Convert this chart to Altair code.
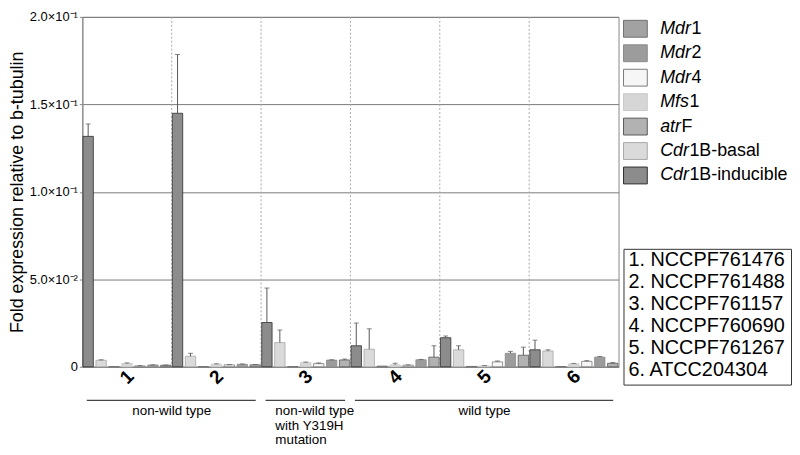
import altair as alt
import pandas as pd

# ---------------- data ----------------
strains = ["1", "2", "3", "4", "5", "6"]
bar_genes = ["Cdr1B-inducible", "Cdr1B-basal", "Mdr1", "Mfs1", "Mdr4", "Mdr2", "atrF"]

cdr1b_inducible = [0.1317, 0.1449, 0.0253, 0.0120, 0.0166, 0.0097]
cdr1b_inducible_err = [0.0071, 0.0336, 0.0197, 0.0130, 0.0010, 0.0055]
cdr1b_basal = [0.0037, 0.0060, 0.0138, 0.0100, 0.0097, 0.0090]
cdr1b_basal_err = [0.0003, 0.0017, 0.0072, 0.0117, 0.0023, 0.0007]
mdr1 = [0.0001, 0.0001, 0.0001, 0.0004, 0.0002, 0.0001]
mdr1_err = [0.0, 0.0, 0.0, 0.0, 0.0, 0.0]
mfs1 = [0.0019, 0.0015, 0.0024, 0.0011, 0.0005, 0.0017]
mfs1_err = [0.0003, 0.0002, 0.0003, 0.0009, 0.0002, 0.0002]
mdr4 = [0.0005, 0.0011, 0.0018, 0.0009, 0.0028, 0.0031]
mdr4_err = [0.0001, 0.0001, 0.0004, 0.0002, 0.0005, 0.0004]
mdr2 = [0.0010, 0.0014, 0.0038, 0.0040, 0.0077, 0.0055]
mdr2_err = [0.0001, 0.0002, 0.0002, 0.0002, 0.0011, 0.0004]
atrf = [0.0009, 0.0011, 0.0039, 0.0055, 0.0066, 0.0020]
atrf_err = [0.0001, 0.0002, 0.0005, 0.0065, 0.0046, 0.0004]

legend_genes = ["Mdr1", "Mdr2", "Mdr4", "Mfs1", "atrF", "Cdr1B-basal", "Cdr1B-inducible"]
legend_italic = ["Mdr", "Mdr", "Mdr", "Mfs", "atr", "Cdr", "Cdr"]
legend_plain = ["1", "2", "4", "1", "F", "1B-basal", "1B-inducible"]

strain_names = ["1. NCCPF761476", "2. NCCPF761488", "3. NCCPF761157",
                "4. NCCPF760690", "5. NCCPF761267", "6. ATCC204304"]

group_labels = ["non-wild type", "non-wild type\nwith Y319H\nmutation", "wild type"]
group_first = [1, 3, 4]
group_last = [2, 3, 6]

y_tick_values = [0, 0.05, 0.1, 0.15, 0.2]
y_tick_labels = ["0", "5.0×10⁻²", "1.0×10⁻¹", "1.5×10⁻¹", "2.0×10⁻¹"]
y_title = "Fold expression relative to b-tubulin"

# ---------------- styles ----------------
FONT = "Liberation Sans"
fill_map = {
    "Mdr1": "#a2a2a2", "Mdr2": "#9c9c9c", "Mdr4": "#f6f6f6", "Mfs1": "#d6d6d6",
    "atrF": "#b2b2b2", "Cdr1B-basal": "#dadada", "Cdr1B-inducible": "#8c8c8c",
}
stroke_map = {
    "Mdr1": "#6e6e6e", "Mdr2": "#8a8a8a", "Mdr4": "#7a7a7a", "Mfs1": "#c8c8c8",
    "atrF": "#5a5a5a", "Cdr1B-basal": "#a8a8a8", "Cdr1B-inducible": "#2e2e2e",
}
W, H = 541, 353
LEG_FS = 18

series = {
    "Cdr1B-inducible": (cdr1b_inducible, cdr1b_inducible_err),
    "Cdr1B-basal": (cdr1b_basal, cdr1b_basal_err),
    "Mdr1": (mdr1, mdr1_err),
    "Mfs1": (mfs1, mfs1_err),
    "Mdr4": (mdr4, mdr4_err),
    "Mdr2": (mdr2, mdr2_err),
    "atrF": (atrf, atrf_err),
}
rows = []
for g in bar_genes:
    vals, errs = series[g]
    for s, v, e in zip(strains, vals, errs):
        rows.append({"strain": s, "gene": g, "value": v, "err": e})
df = pd.DataFrame(rows)

x_scale = alt.Scale(domain=strains, paddingInner=0, paddingOuter=0)
off_scale = alt.Scale(domain=bar_genes, paddingInner=0.2, paddingOuter=0.05)
y_scale = alt.Scale(domain=[0, 0.2], nice=False)

label_expr = "[" + ",".join("'%s'" % t for t in y_tick_labels) + "][indexof([" + \
    ",".join(str(v) for v in y_tick_values) + "], datum.value)]"

x_axis = alt.Axis(title=None, ticks=False, labelAngle=315, labelFontSize=19,
                  labelFontWeight="bold", labelColor="black", labelFont=FONT,
                  labelPadding=10, labelAlign="center", labelBaseline="middle",
                  domainColor="#888", grid=False)
y_axis = alt.Axis(title=y_title, values=y_tick_values, labelExpr=label_expr,
                  labelFontSize=13, labelColor="black", labelFont=FONT,
                  titleFont=FONT, titleFontSize=18, titleFontWeight="normal",
                  titleColor="black", titlePadding=3, grid=True,
                  gridColor="#7a7a7a", domainColor="#888", tickColor="#888",
                  tickSize=3, labelPadding=2)

base = alt.Chart(df)

separators = alt.Chart(pd.DataFrame({"strain": strains[1:]})).mark_rule(
    color="#a8a8a8", strokeDash=[2, 2], strokeWidth=1
).encode(x=alt.X("strain:N", bandPosition=0, scale=x_scale, sort=strains, axis=x_axis))

bars = base.mark_bar(strokeWidth=0.8).encode(
    x=alt.X("strain:N", scale=x_scale, sort=strains, axis=x_axis),
    xOffset=alt.XOffset("gene:N", scale=off_scale, sort=bar_genes),
    y=alt.Y("value:Q", scale=y_scale, axis=y_axis),
    fill=alt.Fill("gene:N", scale=alt.Scale(domain=list(fill_map), range=list(fill_map.values())), legend=None),
    stroke=alt.Stroke("gene:N", scale=alt.Scale(domain=list(stroke_map), range=list(stroke_map.values())), legend=None),
)

err_base = base.transform_filter("datum.err > 0").transform_calculate(top="datum.value + datum.err")
err_rule = err_base.mark_rule(color="#555", strokeWidth=1).encode(
    x=alt.X("strain:N", scale=x_scale, sort=strains, axis=x_axis),
    xOffset=alt.XOffset("gene:N", scale=off_scale, sort=bar_genes),
    y=alt.Y("value:Q", scale=y_scale, axis=y_axis), y2="top:Q")
err_cap = err_base.mark_tick(color="#555", orient="horizontal", size=5, thickness=1).encode(
    x=alt.X("strain:N", scale=x_scale, sort=strains, axis=x_axis),
    xOffset=alt.XOffset("gene:N", scale=off_scale, sort=bar_genes),
    y=alt.Y("top:Q", scale=y_scale, axis=y_axis))

main = alt.layer(separators, bars, err_rule, err_cap).properties(
    width=W, height=H, view=alt.ViewBackground(stroke="#888"))

# ---------------- group annotations ----------------
gdf = pd.DataFrame({"label": group_labels, "first": group_first, "last": group_last})
gx = alt.Scale(domain=[0, len(strains)], nice=False, zero=False)
annot_base = alt.Chart(gdf).transform_calculate(
    x1="datum.first - 1 + 0.05", x2="datum.last - 0.06",
    xm="(datum.first - 1 + datum.last) / 2", xl="datum.first - 1 + 0.16")
group_rules = annot_base.mark_rule(color="#444", strokeWidth=1.2).encode(
    x=alt.X("x1:Q", scale=gx, axis=None), x2="x2:Q", y=alt.value(12))
group_text_c = annot_base.transform_filter("indexof(datum.label, '\\n') < 0").mark_text(
    font=FONT, fontSize=13.5, baseline="top", align="center", color="black"
).encode(x=alt.X("xm:Q", scale=gx, axis=None), y=alt.value(16), text="label:N")
group_text_l = annot_base.transform_filter("indexof(datum.label, '\\n') >= 0").mark_text(
    font=FONT, fontSize=13.5, baseline="top", align="left", color="black",
    lineBreak="\n", lineHeight=14.5
).encode(x=alt.X("xl:Q", scale=gx, axis=None), y=alt.value(16), text="label:N")
annot = alt.layer(group_rules, group_text_c, group_text_l).properties(
    width=W, height=59, view=alt.ViewBackground(stroke=None))

left_col = alt.vconcat(main, annot, spacing=0)

# ---------------- gene legend ----------------
ldf = pd.DataFrame({"gene": legend_genes, "ital": legend_italic, "plain": legend_plain})
ly = alt.Scale(domain=legend_genes, range=[12, 160], padding=0)
leg_sym = alt.Chart(ldf).mark_point(
    shape="M-1.41,-1L1.41,-1L1.41,1L-1.41,1Z", size=289, filled=True, strokeWidth=1, opacity=1
).encode(
    x=alt.value(12),
    y=alt.Y("gene:N", scale=ly, sort=legend_genes, axis=None),
    fill=alt.Fill("gene:N", scale=alt.Scale(domain=list(fill_map), range=list(fill_map.values())), legend=None),
    stroke=alt.Stroke("gene:N", scale=alt.Scale(domain=list(stroke_map), range=list(stroke_map.values())), legend=None),
)
leg_ital = alt.Chart(ldf).mark_text(
    font=FONT, fontSize=LEG_FS, fontStyle="italic", align="left", baseline="middle", color="black"
).encode(x=alt.value(37), y=alt.Y("gene:N", scale=ly, sort=legend_genes, axis=None), text="ital:N")

ital_w = {"Mdr": 1.722, "Mfs": 1.611, "atr": 1.167, "Cdr": 1.611}
plain_layers = []
for g, it in zip(legend_genes, legend_italic):
    plain_layers.append(
        alt.Chart(ldf).transform_filter(alt.datum.gene == g).mark_text(
            font=FONT, fontSize=LEG_FS, align="left", baseline="middle", color="black",
            dx=ital_w[it] * LEG_FS + 0.5
        ).encode(x=alt.value(37), y=alt.Y("gene:N", scale=ly, sort=legend_genes, axis=None),
                 text="plain:N"))
gene_panel = alt.layer(leg_sym, leg_ital, *plain_layers).properties(
    width=165, height=179, view=alt.ViewBackground(stroke=None))

# ---------------- strain box ----------------
sdf = pd.DataFrame({"name": strain_names})
strain_box = alt.Chart(sdf).mark_text(
    font=FONT, fontSize=20, align="left", baseline="middle", color="black"
).encode(
    x=alt.value(5),
    y=alt.Y("name:N", scale=alt.Scale(domain=strain_names, range=[11, 122], padding=0),
            sort=strain_names, axis=None),
    text="name:N",
).properties(width=169, height=137, view=alt.ViewBackground(stroke="#333", strokeWidth=1))

right_col = alt.vconcat(gene_panel, strain_box, spacing=54)

chart = alt.hconcat(left_col, right_col, spacing=2).properties(
    padding={"left": 0, "top": 0, "right": 0, "bottom": 0}
).configure_view(stroke=None).configure(font=FONT)

chart.save("out.html", embed_options={"renderer": "svg", "actions": False})
